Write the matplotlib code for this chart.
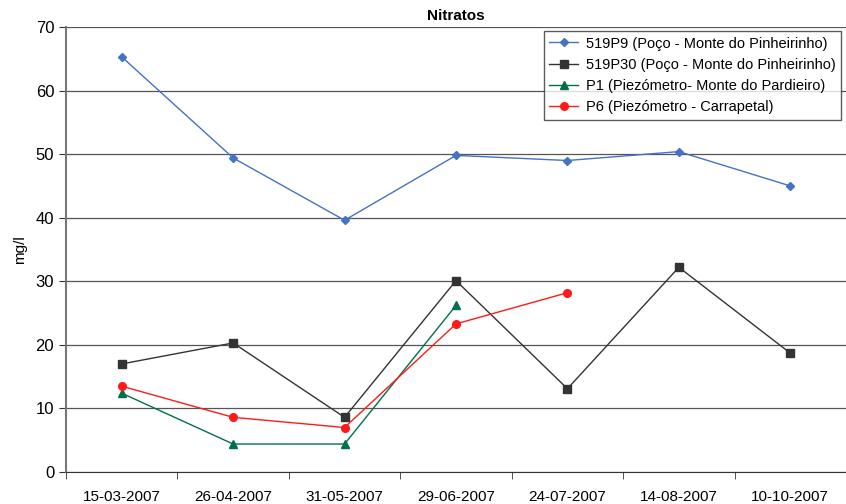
import numpy as np
import matplotlib.pyplot as plt

plt.rcParams['font.family'] = ['Liberation Sans', 'DejaVu Sans']

datas = ['15-03-2007', '26-04-2007', '31-05-2007', '29-06-2007',
         '24-07-2007', '14-08-2007', '10-10-2007']
p9 = [65.3, 49.4, 39.6, 49.8, 49.0, 50.4, 45.0]
p30 = [17.0, 20.3, 8.6, 30.1, 13.1, 32.2, 18.7]
p1 = [12.4, 4.4, 4.4, 26.2, np.nan, np.nan, np.nan]
p6 = [13.5, 8.6, 7.0, 23.3, 28.2, np.nan, np.nan]

fig = plt.figure(figsize=(8.46, 5.04), dpi=100)
ax = fig.add_axes([66 / 846, 32 / 504, 1 - 66 / 846, 445 / 504])

x = np.arange(len(datas))
ax.plot(x, p9, color='#4472c4', marker='D', ms=4, lw=1, label='519P9 (Poço - Monte do Pinheirinho)')
ax.plot(x, p30, color='#333333', marker='s', ms=6, lw=1, label='519P30 (Poço - Monte do Pinheirinho)')
ax.plot(x, p1, color='#00704a', marker='^', ms=6, lw=1, label='P1 (Piezómetro- Monte do Pardieiro)')
ax.plot(x, p6, color='#ff1a1a', marker='o', ms=5.5, lw=1, label='P6 (Piezómetro - Carrapetal)')

ax.set_ylim(0, 70)
ax.set_yticks(range(0, 71, 10))
ax.set_xlim(-0.5, -0.5 + 780 / 112.8)
ax.set_xticks(x)
ax.set_xticklabels(datas)
ax.set_xticks(np.arange(-0.5, 7, 1), minor=True)
ax.tick_params(axis='x', which='major', length=0, pad=13, labelsize=11)
ax.tick_params(axis='x', which='minor', length=5, color='#333333')
ax.tick_params(axis='y', length=5, direction='out', labelsize=12, color='#333333')

ax.grid(axis='y', color='#555555', lw=0.9)
ax.set_axisbelow(True)
for s in ['top', 'right']:
    ax.spines[s].set_visible(False)
ax.spines['left'].set_color('#777777')
ax.spines['left'].set_linewidth(1.5)
ax.spines['bottom'].set_color('#333333')

ax.set_ylabel('mg/l', fontsize=11, labelpad=6)
ax.set_title('Nitratos', fontsize=11, fontweight='bold', pad=5)

leg = ax.legend(loc='upper right', bbox_to_anchor=(0.993, 0.99), fontsize=10.5,
                frameon=True, fancybox=False, edgecolor='#333333',
                handlelength=2.0, handletextpad=0.5, borderpad=0.35,
                labelspacing=0.5, borderaxespad=0)
leg.get_frame().set_linewidth(1)

fig.savefig('out.png', dpi=100)
